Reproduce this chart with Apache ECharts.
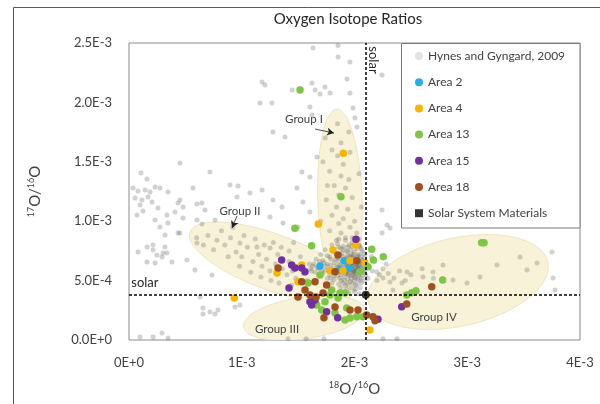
<!DOCTYPE html>
<html><head><meta charset="utf-8">
<script src="https://cdn.jsdelivr.net/npm/echarts@6/dist/echarts.min.js"></script>
<style>html,body{margin:0;padding:0;background:#fff}#c{width:600px;height:404px}</style>
</head><body><div id="c"></div>
<script>
// All ratio values are in units of 1e-3
const xTickLabels = ['0E+0','1E-3','2E-3','3E-3','4E-3'];
const yTickLabels = ['0.0E+0','5.0E-4','1.0E-3','1.5E-3','2.0E-3','2.5E-3'];
const seriesNames = ['Hynes and Gyngard, 2009','Area 2','Area 4','Area 13','Area 15','Area 18','Solar System Materials'];

const hynes = [
[0.452,1.490],[0.106,1.406],[0.160,1.355],[0.035,1.279],[0.080,1.254],[0.142,1.263],[0.186,1.246],[0.231,1.288],[0.275,1.279],[0.346,1.246],
[0.568,1.279],[0.967,1.296],[0.053,1.195],[0.115,1.178],[0.169,1.204],[0.204,1.162],[0.257,1.111],[0.337,1.052],[0.435,1.153],[0.479,1.120],
[0.603,1.145],[0.647,1.153],[0.674,1.094],[0.408,1.077],[0.479,1.027],[0.603,1.010],[0.346,0.985],[0.435,0.901],[0.319,0.884],[0.647,0.976],
[0.763,1.010],[0.071,1.052],[0.124,1.086],[0.098,1.136],[0.231,1.010],[0.275,0.951],[0.213,0.800],[0.319,0.783],[0.080,0.741],[0.213,0.758],
[0.248,0.715],[0.293,0.699],[0.337,0.732],[0.160,0.657],[0.231,0.648],[0.381,0.657],[0.514,0.673],[0.585,0.589],[0.736,0.547],[0.656,0.269],
[0.656,0.219],[0.763,0.219],[0.940,0.278],[0.984,0.295],[0.213,0.025],[0.346,0.017],
[1.632,2.458],[1.854,2.480],[1.854,2.382],[1.960,2.340],[2.244,2.231],[1.180,2.172],[1.206,2.146],[1.623,2.163],[1.446,2.104],[1.650,2.104],
[1.738,2.130],[1.694,2.071],[1.783,2.079],[1.933,2.197],[1.960,2.079],[1.162,1.995],[1.268,1.995],[1.605,1.961],[1.987,1.953],[2.004,1.869],
[2.022,1.793],[1.277,1.751],[1.384,1.709],[1.623,1.894],[0.718,1.414],[0.452,1.178],[0.896,1.305],[0.958,1.204],[1.073,1.237],[1.180,1.263],
[1.277,1.178],[1.357,1.120],[1.534,1.414],[1.490,1.279],[1.605,1.372],[1.667,1.540],[1.543,1.162],[1.605,1.077],[1.499,0.951],[1.366,0.985],
[1.251,1.035],[0.984,0.816],[1.135,0.783],[1.251,0.774],[0.452,0.901],[0.603,0.816],[0.160,0.783],[0.302,0.732],[0.630,0.362],[0.718,0.236],
[0.789,0.253],[0.293,0.059],[0.098,0.025],
[2.244,1.094],[2.288,0.968],[2.315,0.943],[2.244,0.901],[3.752,0.741],[3.761,0.522],[3.778,0.421],[2.253,0.010],[2.377,0.010],[3.468,0.699],
[3.264,0.631],[3.113,0.530],[2.998,0.480],[2.874,0.505],[2.696,0.572],[2.608,0.530],[2.421,0.480],[2.341,0.421],[2.315,0.488],[2.253,0.522],
[2.200,0.572],[2.466,0.572],[2.554,0.404],[2.785,0.631],[3.530,0.589],[3.619,0.648],[1.410,0.010],[1.570,0.010],[1.730,0.010],
[0.70,0.88],[0.78,0.84],[0.85,0.80],[0.90,0.86],[0.95,0.74],[1.00,0.70],[1.05,0.78],[1.10,0.66],[1.15,0.72],[1.18,0.62],
[1.22,0.68],[1.25,0.58],[1.30,0.64],[1.32,0.72],[1.36,0.60],[1.40,0.55],[1.42,0.66],[1.45,0.58],[1.48,0.52],[1.50,0.62],
[1.52,0.70],[1.55,0.56],[1.58,0.50],[1.60,0.64],[1.62,0.58],[0.82,0.92],[0.92,0.95],[1.02,0.88],[1.12,0.85],[1.20,0.80],
[1.28,0.82],[1.35,0.78],[1.42,0.75],[1.46,0.82],[0.75,0.76],[0.88,0.70],[0.98,0.62],[1.08,0.57],[1.17,0.53],[1.26,0.50],
[1.33,0.48],[1.44,0.46],[0.66,0.80],[0.60,0.86],
[1.80,1.60],[1.85,1.55],[1.90,1.48],[1.78,1.42],[1.88,1.38],[1.95,1.35],[1.82,1.30],[1.92,1.28],[1.86,1.22],[1.98,1.20],
[1.75,1.18],[1.84,1.12],[1.94,1.10],[1.80,1.05],[1.90,1.02],[2.00,1.00],[1.86,0.98],[1.96,0.95],[1.78,0.92],[1.88,0.90],
[2.02,0.90],[1.92,0.86],[1.84,0.84],[1.98,0.82],[1.74,1.70],[1.88,1.66],[1.96,1.58],[1.72,1.50],[2.04,1.40],[1.76,1.30],
[2.06,1.12],[1.70,1.00],[2.04,0.80],[1.95,1.75],[1.85,1.82],
[1.86,0.85],[1.92,0.84],[1.98,0.86],[2.04,0.85],[1.80,0.80],[1.85,0.81],[1.90,0.79],[1.95,0.80],[2.00,0.81],[2.05,0.79],
[1.74,0.76],[1.82,0.75],[1.88,0.77],[1.93,0.75],[1.97,0.76],[2.02,0.77],[2.07,0.75],[1.70,0.72],[1.76,0.71],[1.84,0.72],
[1.89,0.73],[1.94,0.71],[1.99,0.72],[2.03,0.71],[2.08,0.73],[1.66,0.68],[1.72,0.67],[1.79,0.68],[1.85,0.69],[1.90,0.67],
[1.95,0.68],[1.99,0.69],[2.02,0.67],[2.06,0.68],[2.09,0.66],[1.64,0.64],[1.70,0.63],[1.76,0.64],[1.82,0.65],[1.87,0.63],
[1.91,0.64],[1.95,0.63],[1.98,0.65],[2.01,0.64],[2.04,0.63],[2.07,0.64],[2.10,0.62],[1.68,0.60],[1.74,0.59],[1.80,0.60],
[1.85,0.61],[1.89,0.59],[1.93,0.60],[1.96,0.61],[1.99,0.59],[2.02,0.60],[2.05,0.61],[2.08,0.59],[1.72,0.56],[1.78,0.55],
[1.84,0.57],[1.88,0.55],[1.92,0.56],[1.95,0.55],[1.98,0.57],[2.01,0.56],[2.04,0.55],[2.07,0.57],[2.10,0.55],[1.76,0.52],
[1.82,0.51],[1.87,0.52],[1.91,0.53],[1.94,0.51],[1.97,0.52],[2.00,0.53],[2.03,0.51],[2.06,0.52],[2.09,0.50],[1.80,0.48],
[1.86,0.47],[1.90,0.48],[1.94,0.47],[1.98,0.48],[2.02,0.47],[2.06,0.48],[1.88,0.44],[1.93,0.43],[1.97,0.44],[2.01,0.43],
[2.05,0.44],[1.95,0.40],[2.00,0.41],[2.04,0.39],
[1.96,0.58],[1.99,0.62],[2.02,0.58],[1.97,0.65],[2.00,0.57],[2.03,0.62],[1.94,0.62],[1.98,0.60],[2.01,0.61],[2.04,0.59],
[1.95,0.66],[2.02,0.64],[2.06,0.60],[1.93,0.57],[1.99,0.55],[2.05,0.66],
[2.13,0.62],[2.16,0.58],[2.12,0.52],[2.18,0.66],[2.22,0.55],[2.25,0.60],[2.20,0.50],[2.30,0.56],[2.35,0.52],[2.28,0.64],
[2.40,0.58],[2.45,0.50],[2.50,0.55],[2.15,0.70],[2.60,0.60],[2.70,0.52],
[1.88,0.62],[1.90,0.70],[1.92,0.66],[1.94,0.74],[1.96,0.70],[1.98,0.67],[2.00,0.74],[2.02,0.70],[2.04,0.72],[2.06,0.70],
[2.08,0.62],[2.07,0.67],[2.05,0.64],[2.03,0.66],[2.01,0.68],[1.99,0.64],[1.97,0.62],[1.95,0.59],[1.93,0.64],[1.91,0.61],
[1.89,0.57],[1.87,0.60],[1.86,0.66],[1.84,0.62],[1.83,0.68],[1.81,0.57],[1.79,0.63],[1.77,0.58],[1.75,0.62],[1.73,0.65],
[1.71,0.58],[1.69,0.66],[1.67,0.61],[1.65,0.57],[1.63,0.62],[1.61,0.60],[1.78,0.70],[1.82,0.74],[1.86,0.78],[1.90,0.76],
[1.94,0.78],[1.98,0.79],[2.02,0.82],[2.06,0.77],[2.09,0.70],[2.09,0.58],[2.07,0.54],[2.05,0.50],[2.03,0.54],[2.00,0.50],
[1.97,0.54],[1.94,0.55],[1.91,0.50],[1.88,0.50],[1.85,0.54],[1.82,0.54],[1.79,0.52],[1.96,0.49],[2.01,0.46],[1.92,0.46],
[1.97,0.72],[2.00,0.66],[1.93,0.69],[2.03,0.60],[1.96,0.64],[1.99,0.58],[2.05,0.57],[1.92,0.58],[2.01,0.52],[1.98,0.70]
];
const area2 = [[1.694,0.623],[1.907,0.668],[1.951,0.606],[1.871,0.589]];
const area4 = [[1.901,1.572],[1.679,0.976],[0.934,0.354],[2.012,0.800],[1.809,0.758],[1.783,0.583],[1.898,0.583],[1.960,0.668],[2.093,0.648],[1.499,0.491],[1.313,0.564],[1.532,0.631],[2.137,0.084]];
const area13 = [[1.517,2.104],[1.880,1.206],[1.472,0.940],[1.620,0.794],[2.049,0.575],[2.120,0.617],[1.694,0.547],[1.588,0.480],[1.798,0.421],[1.871,0.396],[1.916,0.396],[1.854,0.354],[1.783,0.379],[1.931,0.269],[2.020,0.196],[2.075,0.196],[1.827,0.227],[1.709,0.253],[1.665,0.295],[1.738,0.322],[3.149,0.819],[3.128,0.819],[2.782,0.505],[2.507,0.398],[2.545,0.415],[2.463,0.379],[2.153,0.763],[2.167,0.673],[2.255,0.701],[1.916,0.168],[1.960,0.185]];
const area15 = [[2.013,0.848],[1.354,0.673],[1.443,0.631],[1.472,0.606],[1.532,0.606],[1.561,0.575],[1.419,0.438],[1.605,0.322],[1.650,0.337],[1.620,0.295],[1.753,0.238],[1.851,0.188],[2.208,0.175],[2.419,0.280]];
const area18 = [[1.854,0.715],[2.020,0.668],[1.827,0.575],[1.322,0.606],[1.532,0.491],[1.650,0.491],[1.561,0.421],[1.605,0.379],[1.753,0.463],[1.721,0.396],[1.827,0.278],[1.729,0.188],[1.960,0.253],[2.031,0.253],[2.108,0.210],[2.164,0.196],[2.685,0.449],[2.463,0.303],[2.182,0.162],[1.499,0.362],[1.659,0.362]];
const solar = [[2.1,0.38]];
// Group regions: [centerX, centerY, majorEndX, majorEndY, minorEndX, minorEndY]
const groupNames = ['Group I','Group II','Group III','Group IV'];
const groupEllipses = [
  [1.871,1.178, 1.845,1.943, 2.067,1.178],
  [1.268,0.657, 0.541,0.909, 1.353,0.879],
  [1.552,0.185, 2.088,0.256, 1.535,0.360],
  [2.918,0.488, 3.714,0.657, 2.834,0.850]
];

const FONT = 'Lato';
const TXT = '#404040';
const chart = echarts.init(document.getElementById('c'), null, {renderer:'canvas'});

function renderEllipse(params, api) {
  const c = api.coord([api.value(0), api.value(1)]);
  const u = api.coord([api.value(2), api.value(3)]);
  const v = api.coord([api.value(4), api.value(5)]);
  const ux = u[0]-c[0], uy = u[1]-c[1], vx = v[0]-c[0], vy = v[1]-c[1];
  const pts = [];
  for (let i = 0; i < 90; i++) {
    const t = i / 90 * Math.PI * 2;
    pts.push([c[0] + ux*Math.cos(t) + vx*Math.sin(t), c[1] + uy*Math.cos(t) + vy*Math.sin(t)]);
  }
  return {type:'polygon', shape:{points:pts}, style:{fill:'#f8f3d8', stroke:'#eee5bd', lineWidth:1}};
}

function scatter(name, data, color, size) {
  return {name, type:'scatter', data, symbol:'circle', symbolSize:size, itemStyle:{color, opacity:1}, z:3};
}
const colors = ['#8c8c8c','#22aee6','#f7b500','#7dc646','#7030a0','#a0501e','#000000'];

const annoLabel = (txt, coord, extra) => Object.assign({name:txt, coord, value:txt, symbolSize:0,
  label:{show:true, position:'inside', formatter:txt, color:TXT, fontFamily:FONT, fontSize:11.5}}, extra||{});
const arrow = (a, b) => [{coord:a, symbol:'none'}, {coord:b, symbol:'arrow', symbolSize:[6,7], lineStyle:{type:'solid', width:0.8, color:'#222'}}];

const option = {
  animation:false,
  backgroundColor:'#fff',
  textStyle:{fontFamily:FONT},
  title:{text:'Oxygen Isotope Ratios', left:343, top:7, textAlign:'center',
    textStyle:{fontFamily:FONT, fontSize:15, fontWeight:'normal', color:'#262626'}},
  grid:{left:129, right:20, top:43, bottom:64, show:true, borderColor:'#8a8a8a', borderWidth:1},
  xAxis:{type:'value', min:0, max:4, interval:1,
    axisLine:{show:false}, axisTick:{show:false}, splitLine:{show:false},
    axisLabel:{formatter:(v)=>xTickLabels[Math.round(v)], margin:16, color:TXT, fontSize:13, fontFamily:FONT},
    name:'{s|18}{n|O/}{s|16}{n|O}', nameLocation:'middle', nameGap:41,
    nameTextStyle:{rich:{s:{fontSize:9, verticalAlign:'top', color:TXT, fontFamily:FONT, lineHeight:16}, n:{fontSize:15, color:TXT, fontFamily:FONT, lineHeight:16}}}
  },
  yAxis:{type:'value', min:0, max:2.5, interval:0.5,
    axisLine:{show:false}, axisTick:{show:false}, splitLine:{show:false},
    axisLabel:{formatter:(v)=>yTickLabels[Math.round(v/0.5)], margin:17, color:TXT, fontSize:13, fontFamily:FONT},
    name:'{s|17}{n|O/}{s|16}{n|O}', nameLocation:'middle', nameGap:86,
    nameTextStyle:{rich:{s:{fontSize:9, verticalAlign:'top', color:TXT, fontFamily:FONT, lineHeight:16}, n:{fontSize:15, color:TXT, fontFamily:FONT, lineHeight:16}}}
  },
  legend:{orient:'vertical', left:410, top:44, itemWidth:8, itemHeight:8, itemGap:12.2, z:10,
    textStyle:{color:TXT, fontSize:12, fontFamily:FONT, lineHeight:14},
    data:[
      {name:seriesNames[0], icon:'circle', itemStyle:{color:'#e3e3e3', opacity:1}},
      {name:seriesNames[1], icon:'circle'},{name:seriesNames[2], icon:'circle'},{name:seriesNames[3], icon:'circle'},
      {name:seriesNames[4], icon:'circle'},{name:seriesNames[5], icon:'circle'},
      {name:seriesNames[6], icon:'path://M1,1L7,1L7,7L1,7Z'}
    ]},
  graphic:[
    {type:'rect', z:9, silent:true, shape:{x:401.5, y:43.5, width:178.5, height:184.5}, style:{fill:'#fff', stroke:'#7a7a7a', lineWidth:1}},
    {type:'rect', z:9, silent:true, shape:{x:13.5, y:7.5, width:700, height:500}, style:{fill:'none', stroke:'#5a5a5a', lineWidth:1}}
  ],
  series:[
    {name:'groups', type:'custom', renderItem:renderEllipse, data:groupEllipses, clip:true, z:1, silent:true,
      encode:{x:0, y:1}},
    {name:seriesNames[0], type:'scatter', data:hynes, symbolSize:5, itemStyle:{color:'#5a5a5a', opacity:0.28}, z:2},
    scatter(seriesNames[1], area2, colors[1], 7.5),
    scatter(seriesNames[2], area4, colors[2], 7.5),
    scatter(seriesNames[3], area13, colors[3], 7.5),
    scatter(seriesNames[4], area15, colors[4], 7.5),
    scatter(seriesNames[5], area18, colors[5], 7.5),
    {name:seriesNames[6], type:'scatter', data:solar, symbol:'circle', symbolSize:8, itemStyle:{color:'#000'}, z:4,
      markLine:{silent:true, symbol:'none', animation:false,
        lineStyle:{color:'#000', type:[3,2], width:1.5},
        label:{show:false},
        data:[{xAxis:solar[0][0]}, {yAxis:solar[0][1]},
          arrow([1.650,1.776],[1.818,1.742]),
          arrow([0.958,1.044],[0.914,0.943])
        ]},
      markPoint:{silent:true, symbol:'circle', animation:false, itemStyle:{color:'rgba(0,0,0,0)'},
        data:[
          annoLabel(groupNames[0],[1.552,1.860]),
          annoLabel(groupNames[1],[0.984,1.086]),
          annoLabel(groupNames[2],[1.313,0.093]),
          annoLabel(groupNames[3],[2.705,0.194]),
          annoLabel('solar',[0.02,0.48],{label:{show:true, position:'inside', align:'left', formatter:'solar', color:'#262626', fontFamily:FONT, fontSize:13}}),
          annoLabel('solar',[2.164,2.357],{label:{show:true, position:'inside', rotate:-90, formatter:'solar', color:'#262626', fontFamily:FONT, fontSize:13}})
        ]}
    }
  ]
};
chart.setOption(option);
</script></body></html>
